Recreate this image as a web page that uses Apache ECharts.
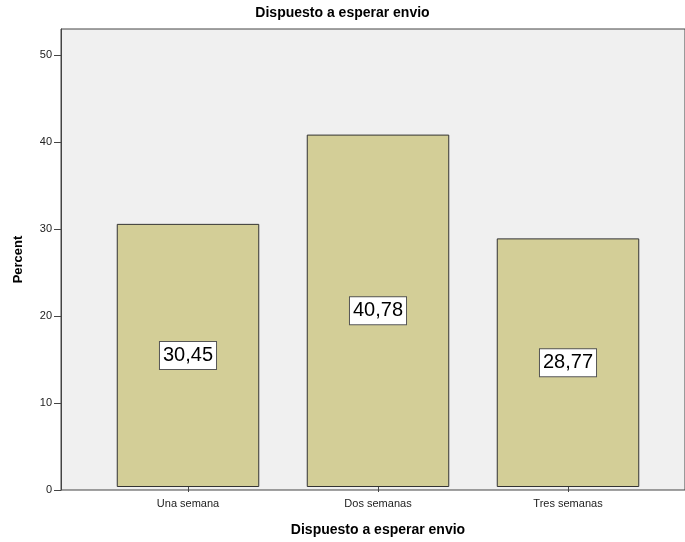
<!DOCTYPE html>
<html>
<head>
<meta charset="utf-8">
<script src="https://cdn.jsdelivr.net/npm/echarts@6/dist/echarts.min.js"></script>
<style>
  html, body { margin: 0; padding: 0; background: #fff; }
  #chart { width: 685px; height: 542px; }
</style>
</head>
<body>
<div id="chart"></div>
<script>
// data
const categories = ['Una semana', 'Dos semanas', 'Tres semanas'];
const percentValues = [30.45, 40.78, 28.77];
const yTicks = [0, 10, 20, 30, 40, 50];

const chart = echarts.init(document.getElementById('chart'), null, { renderer: 'canvas' });

const font = 'Liberation Sans, Arial, sans-serif';

const options = {
  backgroundColor: '#ffffff',
  animation: false,
  title: {
    text: 'Dispuesto a esperar envio',
    left: 'center',
    top: 1,
    textStyle: { fontFamily: font, fontSize: 14, fontWeight: 'bold', color: '#000' },
  },
  grid: [
    // frame / background of the plot
    {
      left: 61, right: 0, top: 29, bottom: 52,
      show: true, backgroundColor: '#f0f0f0', borderColor: '#444', borderWidth: 1,
    },
    // bars sit in a narrower band, like SPSS pads the categories
    { left: 93, right: 22, top: 29, bottom: 52 },
  ],
  xAxis: [
    { gridIndex: 0, type: 'value', show: false },
    {
      gridIndex: 1,
      type: 'category',
      data: categories,
      axisLine: { show: false },
      axisTick: { show: true, alignWithLabel: true, length: 5, lineStyle: { color: '#444' } },
      axisLabel: { fontFamily: font, fontSize: 11, color: '#222', margin: 11 },
      name: 'Dispuesto a esperar envio',
      nameLocation: 'middle',
      nameGap: 36,
      nameTextStyle: { fontFamily: font, fontSize: 14, fontWeight: 'bold', color: '#000' },
    },
  ],
  yAxis: [
    {
      gridIndex: 0,
      type: 'value',
      min: yTicks[0],
      max: 53,
      interval: 10,
      splitLine: { show: false },
      axisLine: { show: true, lineStyle: { color: '#444' } },
      axisTick: { show: true, length: 7, customValues: yTicks, lineStyle: { color: '#444' } },
      axisLabel: {
        fontFamily: font, fontSize: 11, color: '#222', margin: 9,
        customValues: yTicks,
      },
      name: 'Percent',
      nameLocation: 'middle',
      nameGap: 36,
      nameTextStyle: { fontFamily: font, fontSize: 13, fontWeight: 'bold', color: '#000' },
    },
    { gridIndex: 1, type: 'value', min: 0, max: 53, show: false },
  ],
  series: [
    {
      type: 'bar',
      xAxisIndex: 1,
      yAxisIndex: 1,
      data: percentValues,
      barWidth: '75%',
      itemStyle: { color: '#d3ce97', borderColor: '#333', borderWidth: 1 },
      label: {
        show: true,
        position: 'inside',
        formatter: (p) => p.value.toFixed(2).replace('.', ','),
        fontFamily: font,
        fontSize: 20,
        color: '#000',
        backgroundColor: '#fff',
        borderColor: '#555',
        borderWidth: 1,
        padding: [4, 3, 3, 3],
      },
    },
  ],
};

chart.setOption(options);
</script>
</body>
</html>
